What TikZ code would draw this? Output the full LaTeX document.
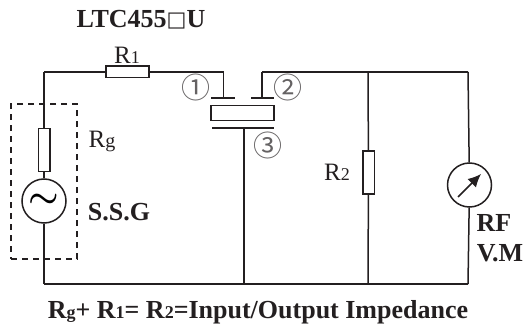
\documentclass[tikz,border=0pt]{standalone}
\usepackage{graphicx}
\usepackage{fontspec}
\setmainfont{Liberation Serif}
\newfontfamily\symfont{DejaVu Sans}
\newfontfamily\numfont{Noto Sans CJK SC}
\usetikzlibrary{arrows.meta}
\definecolor{ink}{RGB}{35,31,32}
\tikzset{
  wire/.style={line width=1.5pt,draw=ink},
  res/.style={rectangle,draw=ink,line width=1.5pt,fill=white,inner sep=0pt},
  resh/.style={res,minimum width=43pt,minimum height=11.5pt},
  resv/.style={res,minimum width=11.5pt,minimum height=43pt},
  src/.style={circle,draw=ink,line width=1.5pt,inner sep=0pt,minimum size=44pt},
  lbl/.style={text=ink,font=\fontsize{25}{25}\selectfont,inner sep=0pt},
  blbl/.style={text=ink,font=\fontsize{26}{26}\bfseries\selectfont,inner sep=0pt},
  num/.style={text=ink!70,font=\fontsize{29}{29}\numfont\selectfont,inner sep=0pt}
}
\newcommand{\sm}[1]{{\fontsize{18}{18}\selectfont #1}}
\begin{document}
\begin{tikzpicture}[x=1pt,y=-1pt]
\useasboundingbox (0,0) rectangle (525,329);
% corners
\coordinate (tl) at (44,72);
\coordinate (bl) at (44,284);
\coordinate (p1) at (223.5,72);
\coordinate (p2) at (262,72);
\coordinate (tr) at (468,72);
\coordinate (br) at (468,284);
\coordinate (t2) at (368,72);
\coordinate (b2) at (368,284);
\coordinate (b3) at (244,284);
% plates
\coordinate (a1) at (211,98);
\coordinate (a2) at (235,98);
\coordinate (am) at (223.5,98);
\coordinate (c1) at (251,98);
\coordinate (c2) at (274,98);
\coordinate (cm) at (262,98);
\coordinate (d1) at (212,128);
\coordinate (d2) at (274,128);
\coordinate (dm) at (244,128);
\coordinate (arr1) at (458,197);
\coordinate (arr2) at (481,174);
% parts
\node (r1) at (127.5,72) [resh] {};
\node (rg) at (44,150) [resv] {};
\node (r2) at (368.5,172.5) [resv] {};
\node (ssg) at (44,201) [src] {\scalebox{1.65}{\huge\boldmath$\sim$}};
\node (vm) at (469.5,185) [src] {};
\node (xtal) at (242.5,113) [rectangle,draw=ink,line width=1.5pt,inner sep=0pt,minimum width=63pt,minimum height=15pt] {};
\node (gen) at (44,181.5) [rectangle,draw=ink,line width=1.5pt,dashed,dash pattern=on 6pt off 5pt,inner sep=0pt,minimum width=66pt,minimum height=155pt] {};
% labels
\node (ltc) at (141,20) [blbl] {LTC455\raisebox{1pt}{\symfont\mdseries\fontsize{21}{21}\selectfont □}U};
\node (lr1) at (127,55) [lbl] {R\sm{1}};
\node (lrg) at (102,141) [lbl] {R{\fontsize{20}{20}\selectfont g}};
\node (lr2) at (337,172) [lbl] {R\sm{2}};
\node (lssg) at (119,212) [blbl] {S.S.G};
\node (lrf) at (494,223) [blbl] {RF};
\node (lvm) at (500,253) [blbl] {V.M};
\node (n1) at (196,87) [num] {①};
\node (n2) at (288,87) [num] {②};
\node (n3) at (268,145) [num] {③};
\node (note) at (258,312) [blbl] {R\sm{g}+ R\sm{1}= R\sm{2}=Input/Output Impedance};

\draw[wire] (tl) -- (r1);
\draw[wire] (r1) -- (p1);
\draw[wire] (p1) -- (am);
\draw[wire] (a1) -- (a2);
\draw[wire] (p2) -- (cm);
\draw[wire] (c1) -- (c2);
\draw[wire] (d1) -- (d2);
\draw[wire] (dm) -- (b3);
\draw[wire] (p2) -- (tr);
\draw[wire] (tr) -- (vm);
\draw[wire] (vm) -- (br);
\draw[wire] (t2) -- (r2);
\draw[wire] (r2) -- (b2);
\draw[wire] (tl) -- (rg);
\draw[wire] (rg) -- (ssg);
\draw[wire] (ssg) -- (bl);
\draw[wire] (bl) -- (br);
\draw[wire,-{Latex[length=13pt,width=12pt]}] (arr1) -- (arr2);
\end{tikzpicture}
\end{document}
